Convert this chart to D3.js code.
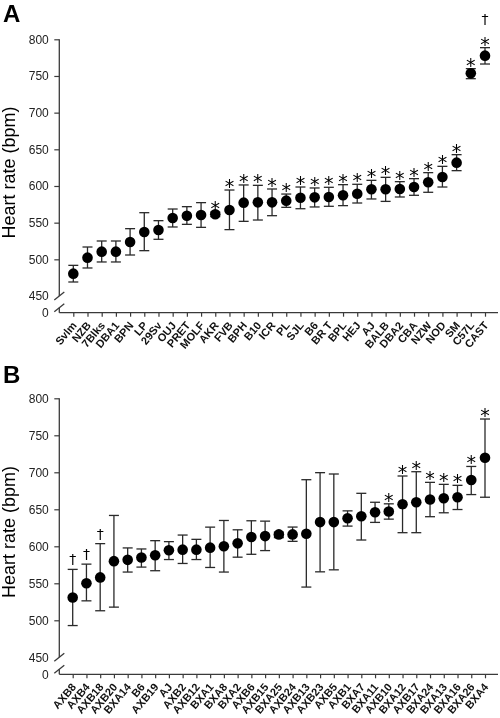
<!DOCTYPE html>
<html><head><meta charset="utf-8">
<script src="https://cdn.jsdelivr.net/npm/d3@7"></script>
<style>body{margin:0;background:#fff}svg{display:block;filter:grayscale(1)}</style>
</head><body>
<svg id="c" width="500" height="718"></svg>
<script>
// ---------- Panel A data ----------
const catsA = ["Svlm","NZB","7Blks","DBA1","BPN","LP","29Sv","OUJ","PRET","MOLF","AKR","FVB","BPH","B10","ICR","PL","SJL","B6","BR T","BPL","HEJ","AJ","BALB","DBA2","CBA","NZW","NOD","SM","C57L","CAST"];
const meanA = [480.5,502.3,510.5,510.5,523.6,537.3,540,556.4,559.5,560.5,561.4,567.3,577.3,577.7,577.7,580,584,584.5,585,587.3,589.5,595.5,595.5,595.9,598.6,605,612.3,631.8,753.6,777.7];
const hiA   = [491.8,516.8,525,525,541.8,563.6,552.7,568.6,571.8,577.3,564.5,594.5,601.4,600.9,595.9,589,598.6,597.3,598.2,601.8,602.3,607.7,611.8,605.9,610,618.2,626.8,642.7,760,788.6];
const loA   = [469.1,488.2,496.4,496.4,505.9,511.8,527.3,544.1,547.7,543.6,558.2,540.5,551.8,553.6,559.5,570.9,569,571.4,572.3,573.2,576.8,582.3,579,585,587.3,591.4,598.6,620.9,746.3,766.3];
const starA = [0,0,0,0,0,0,0,0,0,0,1,1,1,1,1,1,1,1,1,1,1,1,1,1,1,1,1,1,1,1];
const dagA  = [0,0,0,0,0,0,0,0,0,0,0,0,0,0,0,0,0,0,0,0,0,0,0,0,0,0,0,0,0,1];

// ---------- Panel B data ----------
const catsB = ["AXB8","AXB4","AXB18","AXB20","BXA14","B6","AXB19","AJ","AXB2","AXB12","BXA1","BXA8","BXA2","AXB6","AXB15","BXA25","AXB24","AXB13","AXB23","AXB5","AXB1","BXA7","BXA11","AXB10","BXA12","AXB17","BXA24","BXA13","BXA16","BXA26","BXA4"];
const meanB = [530.8,550,558,579.9,581.7,584.8,588,594.6,595.5,595.5,598.2,600,604,612.5,613.8,616.1,616.1,617,632.7,632.7,638,640.7,646.1,647,656.9,659.6,663.2,664.9,666.3,689.6,719.6];
const hiB   = [568.8,575.9,603.6,641.7,597.8,596.4,607.6,606.3,615.2,609.4,625.9,634.9,622.3,634.5,634,619.2,626,690,699.5,697.7,647.9,671.6,659.5,657.4,695,700.8,686.4,683.7,682.4,707.9,772];
const loB   = [492.9,526.3,512.9,517.8,565.2,571.9,567,582.1,576.8,582.1,571.4,565.2,585.3,589.2,594.2,611.7,606.7,544.9,565.5,568.2,627.3,608.5,632.3,636.7,618.4,618.4,640,645.3,649.7,669.9,666.3];
const starB = [0,0,0,0,0,0,0,0,0,0,0,0,0,0,0,0,0,0,0,0,0,0,0,1,1,1,1,1,1,1,1];
const dagB  = [1,1,1,0,0,0,0,0,0,0,0,0,0,0,0,0,0,0,0,0,0,0,0,0,0,0,0,0,0,0,0];

const yTicks = [0,450,500,550,600,650,700,750,800];
const yTitle = "Heart rate (bpm)";

const svg = d3.select("#c");
const FONT = "Arial, 'Liberation Sans', Helvetica, sans-serif";
const AX = "#3a3a3a";

function panel(o){
  const g = svg.append("g");
  const x = d3.scalePoint().domain(o.cats).range(o.xr);
  const y = d3.scaleLinear().domain([0,450,800]).range(o.yr);
  const ax0 = 59.3, ax1 = 498;
  g.append("text").attr("x",3).attr("y",o.letterY).text(o.letter)
    .attr("font-family",FONT).attr("font-weight","bold").attr("font-size",24).attr("fill","#000");
  g.append("text").attr("transform",`translate(15,${o.titleY}) rotate(-90)`)
    .attr("text-anchor","middle").attr("font-family",FONT).attr("font-size",18).attr("fill","#000").text(yTitle);
  const ya = g.append("g").attr("transform",`translate(${ax0},0)`)
    .call(d3.axisLeft(y).tickValues(yTicks).tickSize(5).tickPadding(5).tickFormat(d3.format("d")));
  ya.select(".domain").remove();
  ya.selectAll(".tick line").attr("stroke",AX).attr("stroke-width",1.2)
    .filter(d=>d<500).remove();
  ya.selectAll(".tick text").attr("font-family",FONT).attr("font-size",12).attr("fill","#222")
    .attr("x",-10.5);
  const yb = y(0);
  g.append("line").attr("x1",ax0).attr("x2",ax0).attr("y1",y(800)).attr("y2",y(450))
    .attr("stroke",AX).attr("stroke-width",1.3);
  g.append("line").attr("x1",ax0).attr("x2",ax0).attr("y1",yb-5).attr("y2",yb)
    .attr("stroke",AX).attr("stroke-width",1.3);
  [y(450), yb-5].forEach(c=>{
    g.append("line").attr("x1",ax0-5).attr("y1",c+4).attr("x2",ax0+5).attr("y2",c-4)
      .attr("stroke",AX).attr("stroke-width",1.3);
  });
  const xa = g.append("g").attr("transform",`translate(0,${yb})`)
    .call(d3.axisBottom(x).tickSize(4).tickFormat(""));
  xa.select(".domain").remove();
  xa.selectAll(".tick line").attr("stroke",AX).attr("stroke-width",1.2);
  g.append("line").attr("x1",ax0).attr("x2",ax1).attr("y1",yb).attr("y2",yb)
    .attr("stroke",AX).attr("stroke-width",1.3);
  g.selectAll(".xl").data(o.cats).join("text")
    .attr("transform",d=>`translate(${x(d)+4},${yb+13}) rotate(-50)`)
    .attr("text-anchor","end").attr("font-family",FONT).attr("font-weight","bold")
    .attr("font-size",11).attr("fill","#111").text(d=>d);
  const idx = d3.range(o.cats.length);
  const eb = g.append("g").attr("stroke","#2a2a2a").attr("stroke-width",1.3).attr("fill","none");
  idx.forEach(i=>{
    const cx = x(o.cats[i]);
    eb.append("line").attr("x1",cx).attr("x2",cx).attr("y1",y(o.hi[i])).attr("y2",y(o.lo[i]));
    eb.append("line").attr("x1",cx-5).attr("x2",cx+5).attr("y1",y(o.hi[i])).attr("y2",y(o.hi[i]));
    eb.append("line").attr("x1",cx-5).attr("x2",cx+5).attr("y1",y(o.lo[i])).attr("y2",y(o.lo[i]));
  });
  g.selectAll(".dot").data(idx).join("circle")
    .attr("cx",i=>x(o.cats[i])).attr("cy",i=>y(o.mean[i])).attr("r",5.3).attr("fill","#000");
  idx.forEach(i=>{
    const cx = x(o.cats[i]);
    let top = y(o.hi[i]);
    if(o.star[i]){
      g.append("text").attr("x",cx).attr("y",top+3).attr("text-anchor","middle")
        .attr("font-family","'DejaVu Sans', sans-serif").attr("font-size",19).attr("fill","#000").text("*");
      top -= 14;
      if(o.dag[i]) top -= 5;
    }
    if(o.dag[i]){
      g.append("text").attr("x",cx).attr("y",top-5).attr("text-anchor","middle")
        .attr("font-family","'DejaVu Sans'").attr("font-size",14).attr("fill","#000").text("\u2020");
    }
  });
}

panel({cats:catsA,mean:meanA,hi:hiA,lo:loA,star:starA,dag:dagA,
  xr:[73.3,485],yr:[312.7,296,39.3],letter:"A",letterY:22,titleY:172.5});
panel({cats:catsB,mean:meanB,hi:hiB,lo:loB,star:starB,dag:dagB,
  xr:[72.7,485],yr:[674.3,657.3,398.3],letter:"B",letterY:383,titleY:532});
</script>
</body></html>
